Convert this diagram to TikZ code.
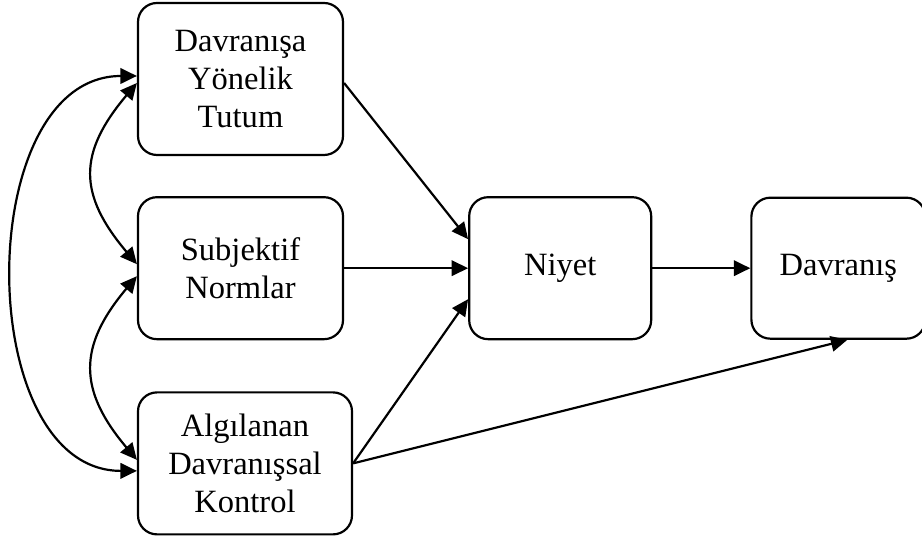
\documentclass[tikz,border=0pt]{standalone}
\usepackage{fontspec}
\setmainfont{Liberation Serif}
\usepackage{tikz}
\usetikzlibrary{arrows.meta,positioning,calc}

\begin{document}
\begin{tikzpicture}[
  box/.style={draw, line width=1.25pt, rounded corners=0.38cm, align=center, minimum width=4.1cm, minimum height=2.84cm, font=\fontsize{18.5}{21.8}\selectfont},
  link/.style={line width=1.25pt},
  >={Triangle[length=3.3mm, width=3.1mm]}
]
\useasboundingbox (0,0) rectangle (18.44,10.72);

\node[box, minimum height=3.04cm] (tutum) at (4.81,9.14) {Davranışa\\Yönelik\\Tutum};
\node[box, below=8mm of tutum] (norm) {Subjektif\\Normlar};
\node[box, minimum width=4.28cm, below=10.2mm of norm.south west, anchor=north west] (kontrol) {Algılanan\\Davranışsal\\Kontrol};
\node[box, minimum width=3.64cm, right=2.48cm of norm] (niyet) {Niyet};
\node[box, minimum width=3.48cm, minimum height=2.82cm, right=1.96cm of niyet] (davranis) {Davranış};

\draw[link, ->] ($(tutum.east)+(0,-0.08)$) -- ($(niyet.west)+(0,0.58)$);
\draw[link, ->] (norm.east) -- (niyet.west);
\draw[link, ->] (kontrol.east) -- ($(niyet.west)+(0,-0.62)$);
\draw[link, ->] (niyet.east) -- (davranis.west);
\draw[link, ->] (kontrol.east) -- ($(davranis.south)+(0.18,0)$);

\draw[link, <->] ($(tutum.west)+(0,0.06)$) .. controls +(-3.3,0) and +(-3.3,0) .. ($(kontrol.west)+(0,-0.15)$);
\draw[link, <->] ($(tutum.west)+(0,-0.08)$) .. controls +(-1.18,-1.4) and +(-1.18,1.4) .. ($(norm.west)+(0,0.08)$);
\draw[link, <->] ($(norm.west)+(0,-0.16)$) .. controls +(-1.18,-1.4) and +(-1.18,1.4) .. ($(kontrol.west)+(0,0.07)$);
\end{tikzpicture}
\end{document}
